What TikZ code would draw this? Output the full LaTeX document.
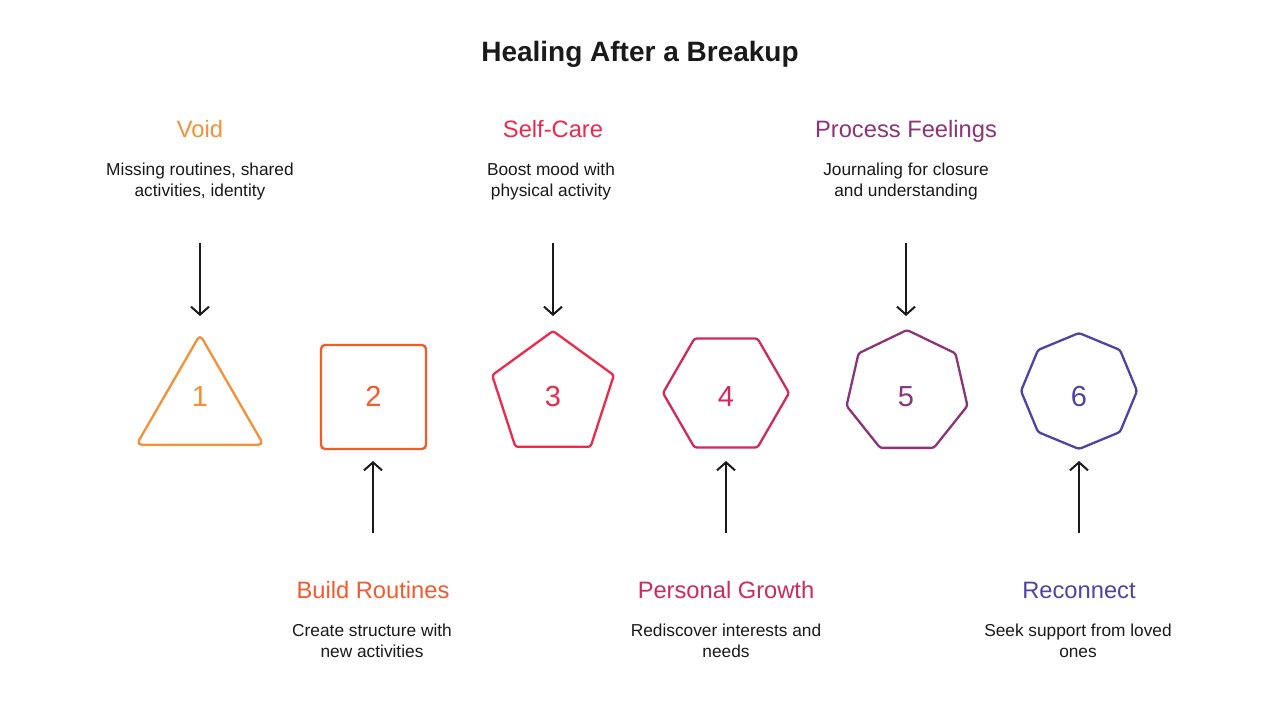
\documentclass[tikz,border=0pt]{standalone}
\usepackage{fontspec}
\setmainfont{Liberation Sans}
\usetikzlibrary{shapes.geometric,arrows.meta}
\definecolor{ink}{HTML}{1A1A1A}
\definecolor{cA}{HTML}{F29138}
\definecolor{cB}{HTML}{F45A2D}
\definecolor{cC}{HTML}{EC2A4C}
\definecolor{cD}{HTML}{CE2A5C}
\definecolor{cE}{HTML}{8B3478}
\definecolor{cF}{HTML}{4E44A2}
\begin{document}
\begin{tikzpicture}[x=1pt,y=-1pt,
  poly/.style={draw, line width=2.3pt, inner sep=0pt, outer sep=0pt, rounded corners=2.5pt},
  num/.style={font=\fontsize{29}{29}\selectfont, anchor=base, inner sep=0pt},
  ttl/.style={font=\fontsize{23.7}{23.7}\selectfont, anchor=base, inner sep=0pt},
  desc/.style={font=\fontsize{17.3}{21}\selectfont, align=center, anchor=base, text=ink, inner sep=0pt},
  arr/.style={line width=2pt, draw=ink, -{Straight Barb[length=8pt,width=18pt]}}]
\useasboundingbox[fill=white] (0,0) rectangle (1280,720);

\node[font=\bfseries\fontsize{28}{28}\selectfont, anchor=base, text=ink, inner sep=0pt] (title) at (640,61) {Healing After a Breakup};

% shapes
\node[poly, draw=cA, regular polygon, regular polygon sides=3, minimum size=146.6pt, rounded corners=5pt] (s1) at (200,408) {};
\node[poly, draw=cB, rectangle, minimum width=105pt, minimum height=104pt, rounded corners=4pt] (s2) at (373.5,397) {};
\node[poly, draw=cC, regular polygon, regular polygon sides=5, minimum size=128pt] (s3) at (553,395) {};
\node[poly, draw=cD, regular polygon, regular polygon sides=6, minimum size=126pt] (s4) at (726,393) {};
\node[poly, draw=cE, regular polygon, regular polygon sides=7, minimum size=124pt] (s5) at (907,392) {};
\node[poly, draw=cF, regular polygon, regular polygon sides=8, shape border rotate=22.5, minimum size=116pt] (s6) at (1079,391) {};

% numbers
\node[num, text=cA] (n1) at (200,406.5) {1};
\node[num, text=cB] (n2) at (373.5,406.5) {2};
\node[num, text=cC] (n3) at (553,406.5) {3};
\node[num, text=cD] (n4) at (726,406.5) {4};
\node[num, text=cE] (n5) at (906,406.5) {5};
\node[num, text=cF] (n6) at (1079,406.5) {6};

% top labels (desc anchored at baseline of last line)
\node[ttl, text=cA] (t1) at (200,137) {Void};
\node[desc] (d1) at (200,196) {Missing routines, shared\\activities, identity};
\node[ttl, text=cC] (t3) at (553,137) {Self-Care};
\node[desc] (d3) at (551,196) {Boost mood with\\physical activity};
\node[ttl, text=cE] (t5) at (906,137) {Process Feelings};
\node[desc] (d5) at (906,196) {Journaling for closure\\and understanding};

% bottom labels
\node[ttl, text=cB] (t2) at (373,598) {Build Routines};
\node[desc] (d2) at (372,657) {Create structure with\\new activities};
\node[ttl, text=cD] (t4) at (726,598) {Personal Growth};
\node[desc] (d4) at (726,657) {Rediscover interests and\\needs};
\node[ttl, text=cF] (t6) at (1079,598) {Reconnect};
\node[desc] (d6) at (1078,657) {Seek support from loved\\ones};

% arrows
\coordinate (a1s) at (200,243); \coordinate (a1e) at (200,316);
\coordinate (a3s) at (553,243); \coordinate (a3e) at (553,316);
\coordinate (a5s) at (906,243); \coordinate (a5e) at (906,316);
\coordinate (a2s) at (373,533); \coordinate (a2e) at (373,461);
\coordinate (a4s) at (726,533); \coordinate (a4e) at (726,461);
\coordinate (a6s) at (1079,533); \coordinate (a6e) at (1079,461);
\draw[arr] (a1s) -- (a1e);
\draw[arr] (a3s) -- (a3e);
\draw[arr] (a5s) -- (a5e);
\draw[arr] (a2s) -- (a2e);
\draw[arr] (a4s) -- (a4e);
\draw[arr] (a6s) -- (a6e);
\end{tikzpicture}
\end{document}
